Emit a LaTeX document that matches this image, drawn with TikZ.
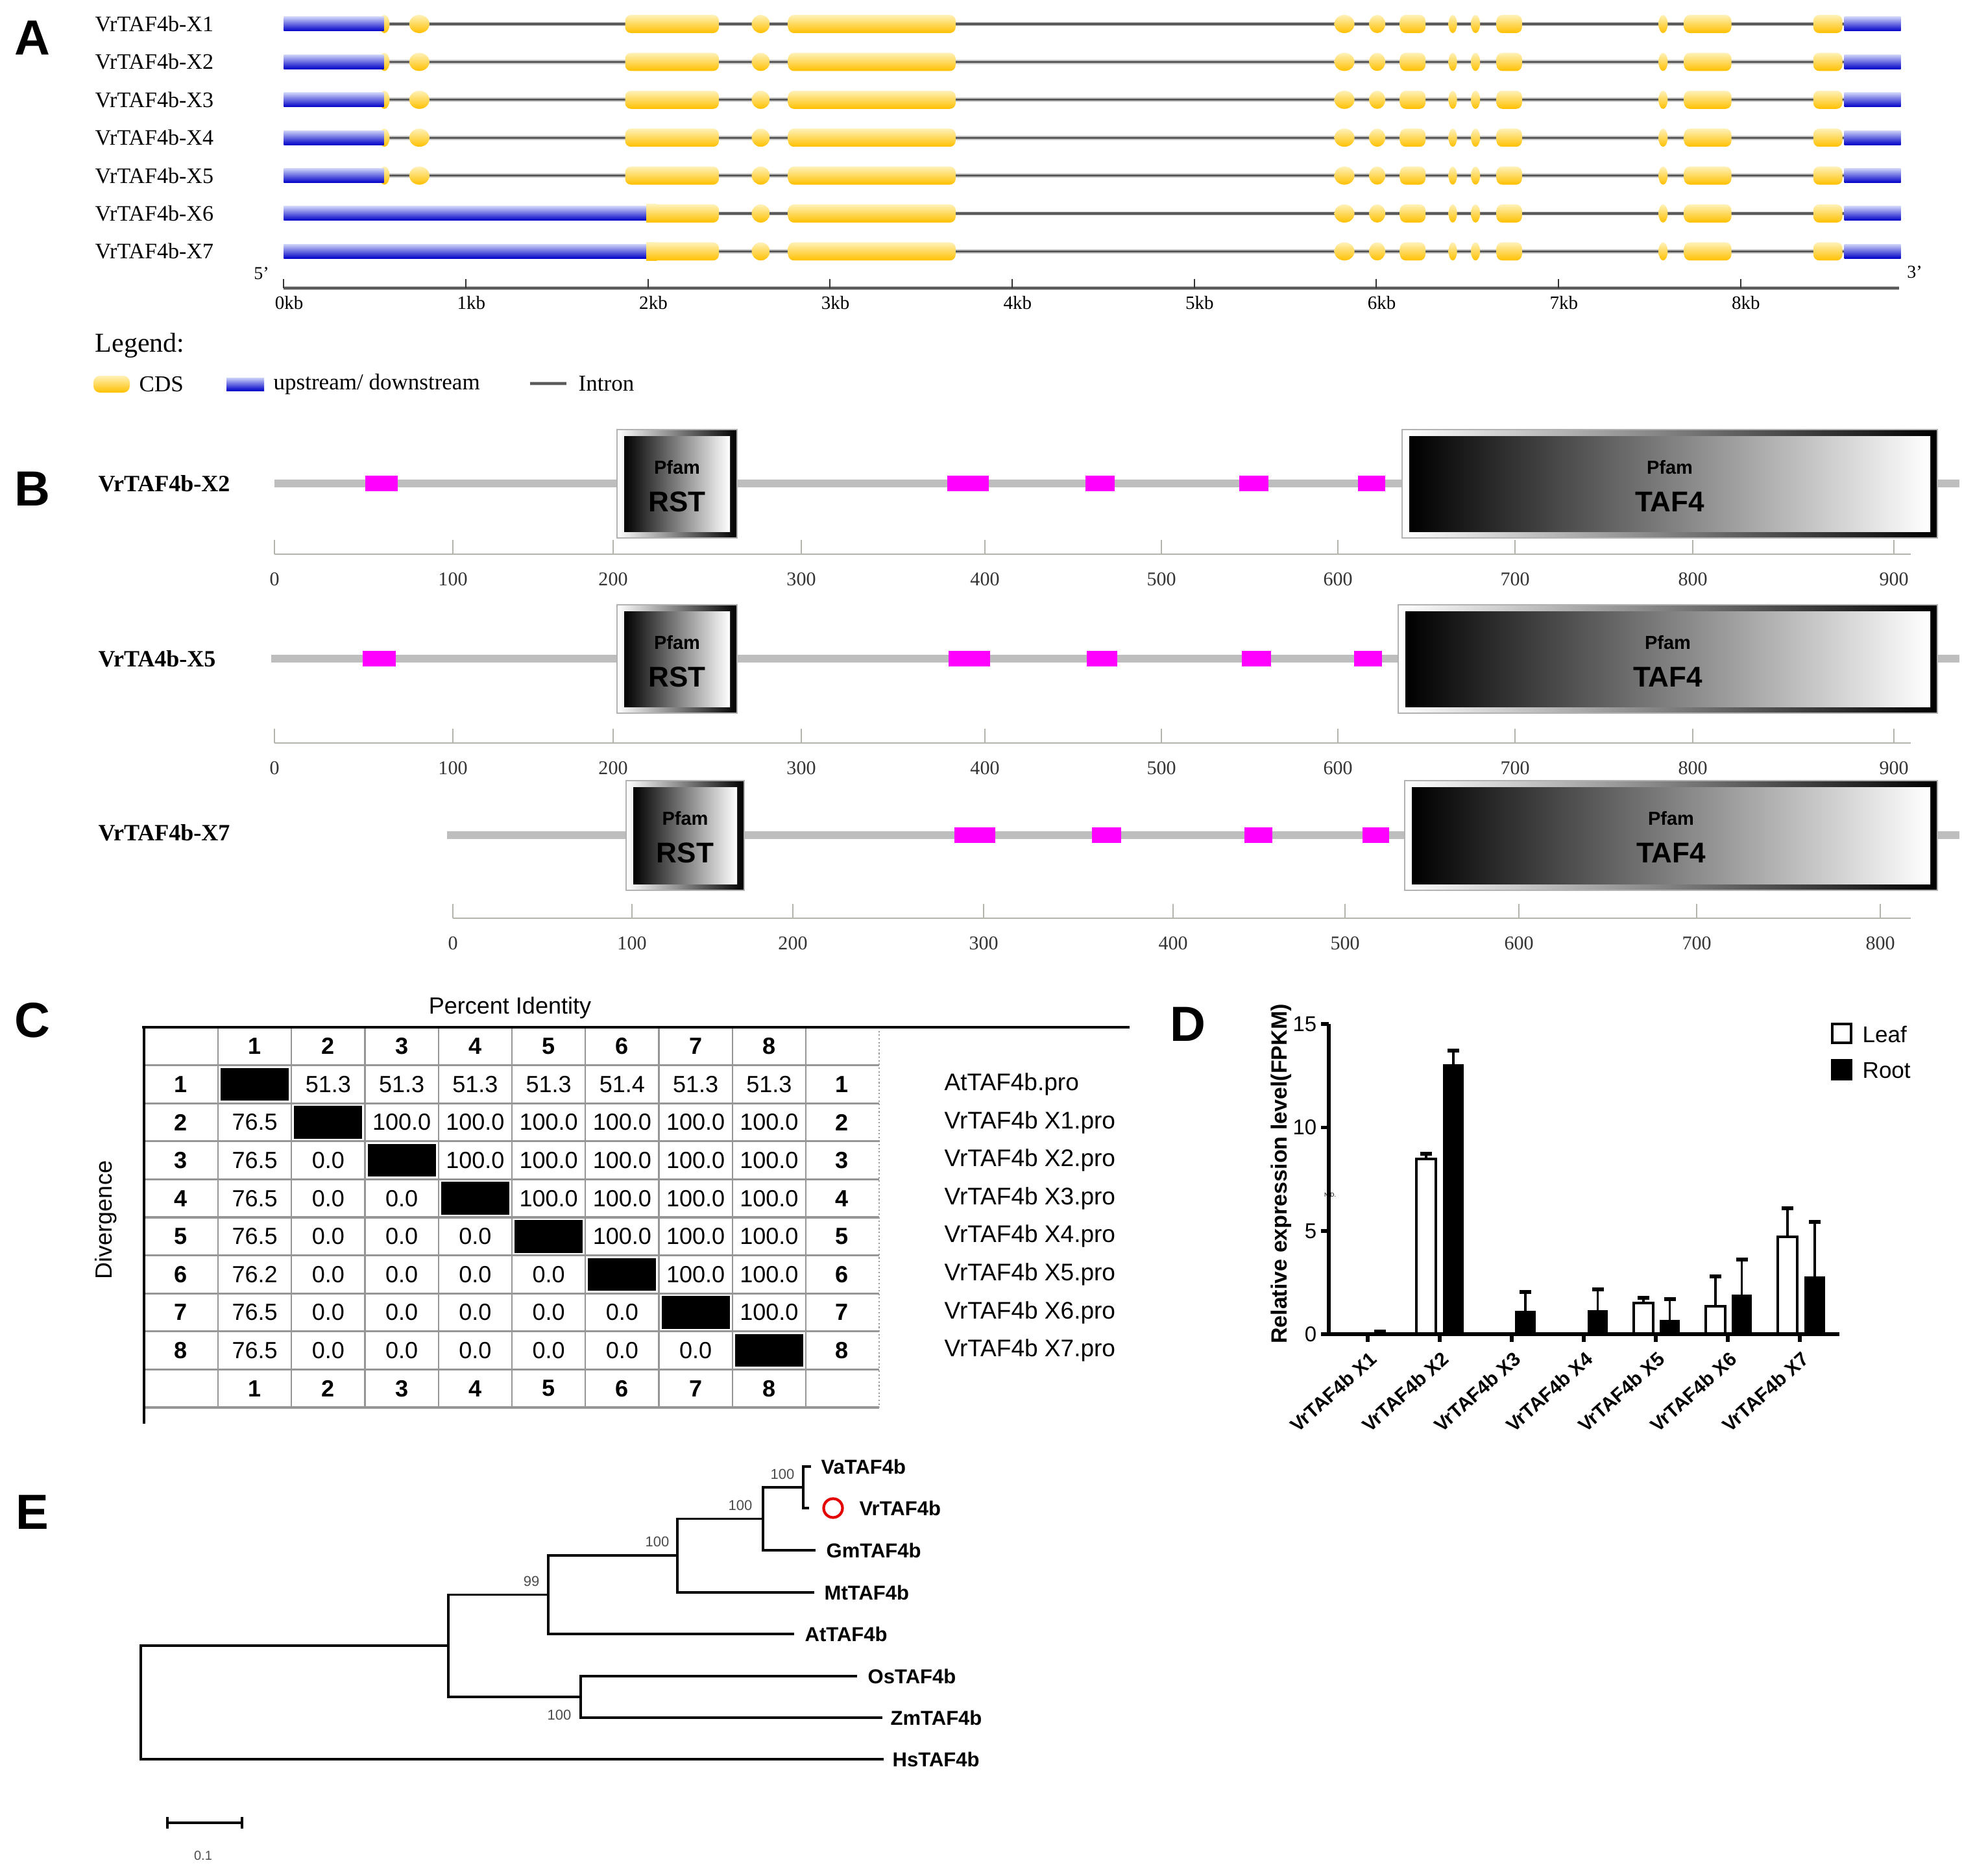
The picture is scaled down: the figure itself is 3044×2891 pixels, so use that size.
\documentclass[tikz,border=0pt]{standalone}
\usepackage{fontspec}
\setmainfont{Liberation Serif}
\setsansfont{Liberation Sans}
\usetikzlibrary{calc}
\newcommand\fpx[1]{\fontsize{\fpeval{#1*0.28453}}{\fpeval{#1*0.34}}\selectfont}
\definecolor{cdsT}{RGB}{255,242,185}
\definecolor{cdsB}{RGB}{255,192,0}
\definecolor{upT}{RGB}{205,210,248}
\definecolor{upB}{RGB}{0,0,200}
\definecolor{intr}{RGB}{90,90,90}
\definecolor{protline}{RGB}{190,190,190}
\definecolor{pinkm}{RGB}{255,0,255}
\definecolor{axB}{RGB}{180,180,172}
\definecolor{gridC}{RGB}{150,150,150}
\tikzset{
  panlab/.style={font=\sffamily\bfseries\fpx{76}, inner sep=0},
  cds/.style={top color=cdsT, bottom color=cdsB},
  utr/.style={top color=upT, bottom color=upB},
  intronhalo/.style={line width=1.9pt, gray!40},
  introncore/.style={line width=0.95pt, intr},
  kbtick/.style={font=\fpx{29}, inner sep=0},
  baxis/.style={line width=0.8pt, axB},
  btick/.style={font=\fpx{30}, text=black!80, inner sep=0},
  pinkbox/.style={fill=pinkm},
  valtxt/.style={font=\sffamily\fpx{36}, inner sep=0},
  idxtxt/.style={font=\sffamily\bfseries\fpx{36}, inner sep=0},
  gridh/.style={line width=0.9pt, gridC},
  gridv/.style={line width=0.6pt, gridC},
  daxis/.style={line width=1.5pt, black},
  leafbar/.style={fill=white, draw=black, line width=1.3pt},
  rootbar/.style={fill=black},
  treeline/.style={line width=1.1pt, black},
  leaflab/.style={anchor=west, font=\sffamily\bfseries\fpx{31}, inner sep=0},
  boot/.style={font=\sffamily\fpx{22}, text=black!70, inner sep=0},
  pfamtxt/.style={font=\sffamily\bfseries\fpx{29}, inner sep=0},
  domtxt/.style={font=\sffamily\bfseries\fpx{44}, inner sep=0}
}
\newcommand\domainbox[6]{%
  \path[left color=white, right color=black, draw=gray!60, line width=0.5pt] (#2,#3) rectangle (#4,#5);
  \path[left color=black, right color=white] (#2+11,#3+10) rectangle (#4-11,#5-10);
  \pgfmathsetmacro\dcx{(#2+#4)/2}
  \node[pfamtxt] (#1p) at (\dcx,#3+58) {Pfam};
  \node[domtxt] (#1n) at (\dcx,#3+111) {#6};
}
\newcommand\protaxis[5]{% name, y, xstart, label y, list
  \draw[baxis] (#3,#2) -- (2945,#2);
  \foreach \tx/\tl in {#5}{
    \draw[baxis] (\tx,#2) -- (\tx,#2-22);
    \node[btick] (#1t\tl) at (\tx,#4) {\tl};
  }
}
\newcommand\exprbar[5]{%
  \pgfmathsetmacro\btop{2056-31.9*#3}
  \pgfmathsetmacro\berr{2056-31.9*#4}
  \pgfmathsetmacro\bmid{(#1+#2)/2}
  \draw[line width=1.1pt] (\bmid,\btop) -- (\bmid,\berr);
  \draw[line width=1.7pt] (\bmid-9,\berr) -- (\bmid+9,\berr);
  \path[#5] (#1,\btop) rectangle (#2,2056);
}
\begin{document}
\begin{tikzpicture}[x=0.01cm,y=-0.01cm]
\useasboundingbox (0,0) rectangle (3044,2891);
\fill[white] (0,0) rectangle (3044,2891);

% panel letters
\foreach \L/\lx/\ly in {A/50/58, B/50/753, C/50/1572, D/1831/1578, E/50/2330}{
  \node[panlab] (pan\L) at (\lx,\ly) {\L};
}

% ================= Panel A =================
\foreach \r in {0,...,6}{
  \pgfmathtruncatemacro\nm{\r+1}
  \node[anchor=west, font=\fpx{34}, inner sep=0] (gA\nm) at (146,{37+58.4*\r}) {VrTAF4b-X\nm};
}
\begin{scope}[xshift=4.37cm, x=2.805cm]
\foreach \r in {0,...,6}{
  \pgfmathsetmacro\yy{37+58.4*\r}
  \ifnum\r<5
    \def\st{0.55}
  \else
    \def\st{1.99}
  \fi
  \draw[intronhalo] (\st,\yy) -- (8.57,\yy);
  \draw[introncore] (\st,\yy) -- (8.57,\yy);
  \ifnum\r<5
    \path[cds] (0.553,\yy) ellipse [x radius=0.08cm, y radius=0.14cm];
    \path[cds] (0.745,\yy) ellipse [x radius=0.155cm, y radius=0.14cm];
    \path[cds, rounded corners=0.09cm] (1.875,\yy-14) rectangle (2.39,\yy+14);
  \else
    \path[cds, rounded corners=0.09cm] (1.99,\yy-14) rectangle (2.39,\yy+14);
    \path[cds] (1.99,\yy-14) rectangle (2.05,\yy+14);
  \fi
  \path[cds] (2.62,\yy) ellipse [x radius=0.14cm, y radius=0.14cm];
  \path[cds, rounded corners=0.09cm] (2.77,\yy-14) rectangle (3.69,\yy+14);
  \path[cds] (5.825,\yy) ellipse [x radius=0.155cm, y radius=0.14cm];
  \path[cds] (6.005,\yy) ellipse [x radius=0.125cm, y radius=0.14cm];
  \path[cds, rounded corners=0.09cm] (6.13,\yy-14) rectangle (6.27,\yy+14);
  \path[cds] (6.42,\yy) ellipse [x radius=0.065cm, y radius=0.14cm];
  \path[cds] (6.545,\yy) ellipse [x radius=0.07cm, y radius=0.14cm];
  \path[cds, rounded corners=0.09cm] (6.66,\yy-14) rectangle (6.80,\yy+14);
  \path[cds] (7.575,\yy) ellipse [x radius=0.07cm, y radius=0.14cm];
  \path[cds, rounded corners=0.09cm] (7.69,\yy-14) rectangle (7.95,\yy+14);
  \path[cds, rounded corners=0.09cm] (8.40,\yy-14) rectangle (8.56,\yy+14);
  \ifnum\r<5
    \path[utr] (0,\yy-11) rectangle (0.55,\yy+11);
  \else
    \path[utr] (0,\yy-11) rectangle (1.99,\yy+11);
  \fi
  \path[utr] (8.57,\yy-11) rectangle (8.88,\yy+11);
}
% axis
\draw[line width=1.9pt, gray!40] (0,444) -- (8.87,444);
\draw[line width=0.95pt, intr] (0,444) -- (8.87,444);
\foreach \k in {0,...,8}{
  \draw[line width=0.6pt, black!80] (\k,444) -- (\k,430);
  \node[kbtick] (kb\k) at (\k+0.03,467) {\k kb};
}
\end{scope}
\node[font=\fpx{28}, inner sep=0] (fivep) at (403,421) {5'};
\node[font=\fpx{28}, inner sep=0] (threep) at (2951,419) {3'};
% legend
\node[anchor=west, font=\fpx{42}, inner sep=0] (legT) at (146,532) {Legend:};
\path[cds, rounded corners=0.1cm] (144,579) rectangle (200,605);
\node[anchor=west, font=\fpx{35}, inner sep=0] (legCDS) at (214,592) {CDS};
\path[utr] (349,582) rectangle (407,602);
\node[anchor=west, font=\fpx{35}, inner sep=0] (legUp) at (421,592) {upstream/ downstream};
\draw[intronhalo] (817,591) -- (873,591);
\draw[introncore] (817,591) -- (873,591);
\node[anchor=west, font=\fpx{35}, inner sep=0] (legIn) at (891,591) {Intron};

% ================= Panel B =================
\tikzset{brow/.style={anchor=west, font=\bfseries\fpx{36}, inner sep=0}}
% row 1
\node[brow] (bX2) at (151,745) {VrTAF4b-X2};
\draw[protline, line width=3.4pt] (423,745) -- (3020,745);
\foreach \a/\b in {563/613,1460/1524,1673/1718,1910/1955,2093/2135}{
  \path[pinkbox] (\a,733) rectangle (\b,757);
}
\domainbox{rA}{951}{662}{1136}{829}{RST}
\domainbox{tA}{2161}{662}{2986}{829}{TAF4}
\protaxis{ax1}{854}{423}{893}{423/0,698/100,945/200,1235/300,1518/400,1790/500,2062/600,2335/700,2609/800,2919/900}
% row 2
\node[brow] (bX5) at (151,1015) {VrTA4b-X5};
\draw[protline, line width=3.4pt] (418,1015) -- (3020,1015);
\foreach \a/\b in {559/610,1462/1526,1675/1722,1914/1959,2087/2130}{
  \path[pinkbox] (\a,1003) rectangle (\b,1027);
}
\domainbox{rB}{951}{932}{1136}{1099}{RST}
\domainbox{tB}{2155}{932}{2986}{1099}{TAF4}
\protaxis{ax2}{1145}{423}{1184}{423/0,698/100,945/200,1235/300,1518/400,1790/500,2062/600,2335/700,2609/800,2919/900}
% row 3
\node[brow] (bX7) at (151,1283) {VrTAF4b-X7};
\draw[protline, line width=3.4pt] (689,1287) -- (3020,1287);
\foreach \a/\b in {1471/1534,1683/1728,1918/1961,2100/2141}{
  \path[pinkbox] (\a,1275) rectangle (\b,1299);
}
\domainbox{rC}{965}{1203}{1147}{1372}{RST}
\domainbox{tC}{2165}{1203}{2986}{1372}{TAF4}
\protaxis{ax3}{1415}{698}{1454}{698/0,974/100,1222/200,1516/300,1808/400,2073/500,2341/600,2615/700,2898/800}

% ================= Panel C =================
\node[font=\sffamily\fpx{36}, inner sep=0] (pid) at (786,1553) {Percent Identity};
\node[font=\sffamily\fpx{36}, inner sep=0, rotate=90] (divg) at (163,1880) {Divergence};
\foreach \k in {1,...,10}{
  \draw[gridh] (222,{1583+58.6*\k}) -- (1355,{1583+58.6*\k});
}
\foreach \k in {1,...,9}{
  \draw[gridv] ({336+113.25*(\k-1)},1583) -- ({336+113.25*(\k-1)},2169);
}
\draw[gridv, densely dotted] (1355,1583) -- (1355,2169);
\draw[line width=1pt, black] (219,1583) -- (1741,1583);
\draw[line width=1pt, black] (222,1583) -- (222,2194);
\foreach \k in {1,...,8}{
  \node[idxtxt] (ch\k) at ({336+113.25*(\k-1)+56.6},1612.3) {\k};
  \node[idxtxt] (cf\k) at ({336+113.25*(\k-1)+56.6},{1583+58.6*9+29.3}) {\k};
  \node[idxtxt] (cl\k) at (279,{1583+58.6*\k+29.3}) {\k};
  \node[idxtxt] (cr\k) at (1298,{1583+58.6*\k+29.3}) {\k};
}
\foreach \ri in {1,...,8}{
  \foreach \cj in {1,...,8}{
    \pgfmathsetmacro\cxx{336+113.25*(\cj-1)}
    \pgfmathsetmacro\cyy{1583+58.6*\ri}
    \ifnum\ri=\cj
      \fill[black] (\cxx+4,\cyy+4) rectangle (\cxx+109,\cyy+54.6);
    \else
      \ifnum\cj>\ri
        \ifnum\ri=1 \ifnum\cj=6 \def\val{51.4}\else\def\val{51.3}\fi\else\def\val{100.0}\fi
      \else
        \ifnum\cj=1 \ifnum\ri=6 \def\val{76.2}\else\def\val{76.5}\fi\else\def\val{0.0}\fi
      \fi
      \node[valtxt] (v\ri x\cj) at (\cxx+56.6,\cyy+29.3) {\val};
    \fi
  }
}
\foreach \k/\nmC in {1/AtTAF4b.pro,2/VrTAF4b X1.pro,3/VrTAF4b X2.pro,4/VrTAF4b X3.pro,5/VrTAF4b X4.pro,6/VrTAF4b X5.pro,7/VrTAF4b X6.pro,8/VrTAF4b X7.pro}{
  \node[anchor=west, font=\sffamily\fpx{37}, inner sep=0] (cn\k) at (1455,{1583+58.6*\k+29.3}) {\nmC};
}

% ================= Panel D =================
\foreach \v/\yv in {0/2056,5/1897,10/1737.5,15/1578}{
  \draw[daxis] (2048,\yv) -- (2036,\yv);
  \node[anchor=east, font=\sffamily\fpx{33}, inner sep=0] (dy\v) at (2030,\yv) {\v};
}
\foreach \k in {1,...,7}{
  \pgfmathsetmacro\xc{2108+111*(\k-1)}
  \draw[daxis] (\xc,2056) -- (\xc,2068);
  \node[rotate=42, anchor=east, font=\sffamily\bfseries\fpx{30}, inner sep=0] (dx\k) at (\xc+9,2089) {VrTAF4b X\k};
}
\exprbar{2113}{2141}{0.1}{0.12}{rootbar}
\exprbar{2183}{2213}{8.46}{8.7}{leafbar}
\exprbar{2224}{2256}{13.04}{13.7}{rootbar}
\exprbar{2335}{2367}{1.13}{2.04}{rootbar}
\exprbar{2447}{2478}{1.16}{2.15}{rootbar}
\exprbar{2518}{2548}{1.5}{1.75}{leafbar}
\exprbar{2558}{2589}{0.68}{1.7}{rootbar}
\exprbar{2629}{2659}{1.35}{2.8}{leafbar}
\exprbar{2669}{2700}{1.9}{3.6}{rootbar}
\exprbar{2740}{2770}{4.7}{6.08}{leafbar}
\exprbar{2781}{2813}{2.8}{5.43}{rootbar}
\draw[daxis] (2048,1578) -- (2048,2056) -- (2835,2056);
\node[font=\sffamily\fpx{9}, inner sep=0] (nd) at (2050,1841) {N.D.};
\node[rotate=90, font=\sffamily\bfseries\fpx{34}, inner sep=0] (dylab) at (1975,1809) {Relative expression level(FPKM)};
\path[leafbar] (2824,1578) rectangle (2853,1607);
\path[rootbar] (2822,1632) rectangle (2855,1665);
\node[anchor=west, font=\sffamily\fpx{35}, inner sep=0] (lgLeaf) at (2870,1594) {Leaf};
\node[anchor=west, font=\sffamily\fpx{35}, inner sep=0] (lgRoot) at (2870,1650) {Root};

% ================= Panel E =================
\coordinate (eVa) at (1250,2260);
\coordinate (eVr) at (1247,2324);
\coordinate (eGm) at (1257,2389);
\coordinate (eMt) at (1255,2454);
\coordinate (eAt) at (1224,2518);
\coordinate (eOs) at (1321,2583);
\coordinate (eZm) at (1360,2647);
\coordinate (eHs) at (1362,2711);
\coordinate (n1) at (1238,2292);
\coordinate (n2) at (1176,2340.5);
\coordinate (n3) at (1044,2397);
\coordinate (n4) at (845,2457.5);
\coordinate (n5) at (895,2615);
\coordinate (n6) at (691,2536);
\coordinate (nR) at (217,2623.5);
\draw[treeline] (nR) |- (n6);
\draw[treeline] (nR) |- (eHs);
\draw[treeline] (n6) |- (n4);
\draw[treeline] (n6) |- (n5);
\draw[treeline] (n4) |- (n3);
\draw[treeline] (n4) |- (eAt);
\draw[treeline] (n3) |- (n2);
\draw[treeline] (n3) |- (eMt);
\draw[treeline] (n2) |- (n1);
\draw[treeline] (n2) |- (eGm);
\draw[treeline] (n1) |- (eVa);
\draw[treeline] (n1) |- (eVr);
\draw[treeline] (n5) |- (eOs);
\draw[treeline] (n5) |- (eZm);
\node[leaflab] (lVa) at (1265,2260) {VaTAF4b};
\node[draw=red!90!black, line width=1.2pt, circle, minimum size=0.29cm, inner sep=0] (mark) at (1284,2324) {};
\node[leaflab] (lVr) at (1324,2324) {VrTAF4b};
\node[leaflab] (lGm) at (1273,2389) {GmTAF4b};
\node[leaflab] (lMt) at (1270,2454) {MtTAF4b};
\node[leaflab] (lAt) at (1240,2518) {AtTAF4b};
\node[leaflab] (lOs) at (1337,2583) {OsTAF4b};
\node[leaflab] (lZm) at (1372,2647) {ZmTAF4b};
\node[leaflab] (lHs) at (1375,2711) {HsTAF4b};
\node[boot] (b1) at (1206,2272) {100};
\node[boot] (b2) at (1141,2320) {100};
\node[boot] (b3) at (1013,2376) {100};
\node[boot] (b4) at (819,2437) {99};
\node[boot] (b5) at (862,2643) {100};
\coordinate (sbL) at (258,2809);
\coordinate (sbR) at (373,2809);
\draw[treeline] (sbL) -- (sbR);
\draw[treeline] ($(sbL)+(0,-9)$) -- ($(sbL)+(0,9)$);
\draw[treeline] ($(sbR)+(0,-9)$) -- ($(sbR)+(0,9)$);
\node[font=\sffamily\fpx{20}, text=black!70, inner sep=0] (sbT) at (313,2860) {0.1};
\end{tikzpicture}
\end{document}
